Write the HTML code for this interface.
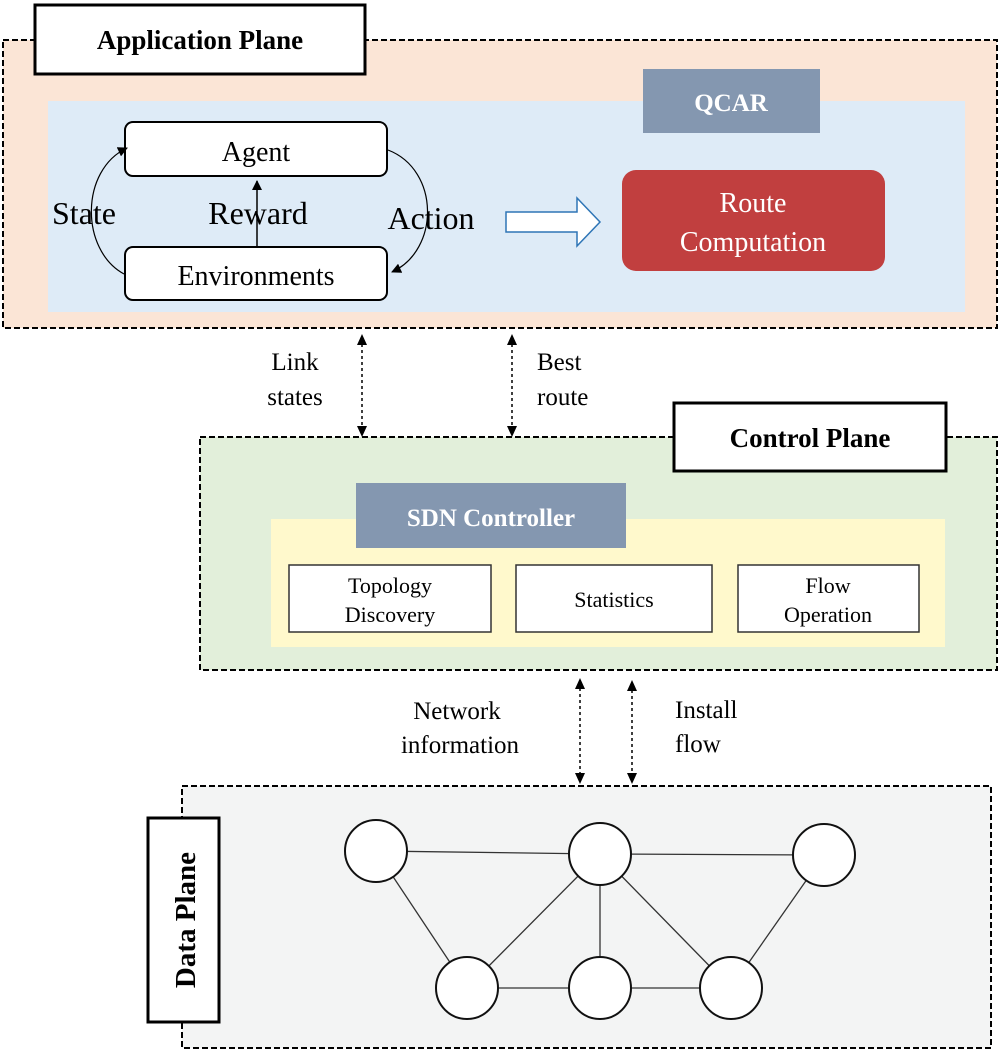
<!DOCTYPE html>
<html><head><meta charset="utf-8"><style>body{margin:0;background:#fff}svg{display:block}text{font-family:"Liberation Serif",serif}</style></head><body>
<svg width="1001" height="1054" viewBox="0 0 1001 1054" xmlns="http://www.w3.org/2000/svg">
<defs>
<marker id="ah" markerWidth="10" markerHeight="10" refX="9" refY="5" orient="auto" markerUnits="userSpaceOnUse"><path d="M0,0 L10,5 L0,10 z" fill="#000"/></marker>
</defs>
<rect x="3" y="40" width="994" height="288" fill="#fbe5d6" stroke="#000" stroke-width="2" stroke-dasharray="6,3"/>
<rect x="48" y="101" width="917" height="211" fill="#deebf7"/>
<rect x="35" y="5" width="330" height="69" fill="#fff" stroke="#000" stroke-width="3"/>
<text x="200" y="49" font-size="27" font-weight="bold" text-anchor="middle">Application Plane</text>
<rect x="643" y="69" width="177" height="64" fill="#8497b0"/>
<text x="731" y="111" font-size="25" font-weight="bold" fill="#fff" text-anchor="middle">QCAR</text>
<rect x="622" y="170" width="263" height="101" rx="14" fill="#c13f3f"/>
<text x="753" y="212" font-size="28" fill="#fff" text-anchor="middle">Route</text>
<text x="753" y="251" font-size="28" fill="#fff" text-anchor="middle">Computation</text>
<path d="M506,212 L577,212 L577,198 L600,222 L577,246 L577,232 L506,232 z" fill="#fff" stroke="#2e75b6" stroke-width="1.5"/>
<rect x="125" y="122" width="262" height="54" rx="8" fill="#fff" stroke="#000" stroke-width="2"/>
<text x="256" y="161" font-size="28" text-anchor="middle">Agent</text>
<rect x="125" y="247" width="262" height="53" rx="8" fill="#fff" stroke="#000" stroke-width="2"/>
<text x="256" y="285" font-size="28" text-anchor="middle">Environments</text>
<line x1="257" y1="247" x2="257" y2="181" stroke="#000" stroke-width="1.5" marker-end="url(#ah)"/>
<path d="M124,274 C80,250 80,170 127,148" fill="none" stroke="#000" stroke-width="1.2" marker-end="url(#ah)"/>
<path d="M388,150 C440,170 440,250 392,272" fill="none" stroke="#000" stroke-width="1.2" marker-end="url(#ah)"/>
<text x="84" y="224" font-size="32" text-anchor="middle">State</text>
<text x="258" y="224" font-size="32" text-anchor="middle">Reward</text>
<text x="431" y="229" font-size="32" text-anchor="middle">Action</text>
<line x1="362" y1="344" x2="362" y2="428" stroke="#000" stroke-width="1.5" stroke-dasharray="3,3"/>
<path d="M357,345 L362,334 L367,345z M357,426 L362,437 L367,426z" fill="#000"/>
<line x1="512" y1="344" x2="512" y2="428" stroke="#000" stroke-width="1.5" stroke-dasharray="3,3"/>
<path d="M507,345 L512,334 L517,345z M507,426 L512,437 L517,426z" fill="#000"/>
<text x="295" y="370" font-size="25" text-anchor="middle">Link</text>
<text x="295" y="405" font-size="25" text-anchor="middle">states</text>
<text x="537" y="370" font-size="25">Best</text>
<text x="537" y="405" font-size="25">route</text>
<rect x="200" y="437" width="797" height="233" fill="#e2efda" stroke="#000" stroke-width="2" stroke-dasharray="6,3"/>
<rect x="271" y="519" width="674" height="128" fill="#fff9cc"/>
<rect x="674" y="403" width="272" height="68" fill="#fff" stroke="#000" stroke-width="3"/>
<text x="810" y="447" font-size="27" font-weight="bold" text-anchor="middle">Control Plane</text>
<rect x="356" y="483" width="270" height="65" fill="#8497b0"/>
<text x="491" y="526" font-size="25" font-weight="bold" fill="#fff" text-anchor="middle">SDN Controller</text>
<rect x="289" y="565" width="202" height="67" fill="#fff" stroke="#333" stroke-width="1.5"/>
<text x="390" y="593" font-size="22" text-anchor="middle">Topology</text>
<text x="390" y="622" font-size="22" text-anchor="middle">Discovery</text>
<rect x="516" y="565" width="196" height="67" fill="#fff" stroke="#333" stroke-width="1.5"/>
<text x="614" y="607" font-size="22" text-anchor="middle">Statistics</text>
<rect x="738" y="565" width="181" height="67" fill="#fff" stroke="#333" stroke-width="1.5"/>
<text x="828" y="593" font-size="22" text-anchor="middle">Flow</text>
<text x="828" y="622" font-size="22" text-anchor="middle">Operation</text>
<line x1="580" y1="688" x2="580" y2="775" stroke="#000" stroke-width="1.5" stroke-dasharray="3,3"/>
<path d="M575,689 L580,678 L585,689z M575,773 L580,784 L585,773z" fill="#000"/>
<line x1="632" y1="690" x2="632" y2="775" stroke="#000" stroke-width="1.5" stroke-dasharray="3,3"/>
<path d="M627,691 L632,680 L637,691z M627,773 L632,784 L637,773z" fill="#000"/>
<text x="457" y="719" font-size="25" text-anchor="middle">Network</text>
<text x="460" y="753" font-size="25" text-anchor="middle">information</text>
<text x="675" y="718" font-size="25">Install</text>
<text x="675" y="752" font-size="25">flow</text>
<rect x="182" y="786" width="809" height="262" fill="#f3f4f4" stroke="#000" stroke-width="2" stroke-dasharray="6,3"/>
<rect x="148" y="818" width="71" height="204" fill="#fff" stroke="#000" stroke-width="3"/>
<text transform="translate(195,920) rotate(-90)" font-size="29" font-weight="bold" text-anchor="middle">Data Plane</text>
<g stroke="#333" stroke-width="1.3">
<line x1="376" y1="851" x2="600" y2="854"/>
<line x1="600" y1="854" x2="824" y2="855"/>
<line x1="600" y1="854" x2="467" y2="988"/>
<line x1="600" y1="854" x2="600" y2="988"/>
<line x1="600" y1="854" x2="731" y2="988"/>
<line x1="824" y1="855" x2="731" y2="988"/>
<line x1="376" y1="851" x2="467" y2="988"/>
<line x1="467" y1="988" x2="600" y2="988"/>
<line x1="600" y1="988" x2="731" y2="988"/>
</g>
<g fill="#fff" stroke="#111" stroke-width="2">
<circle cx="376" cy="851" r="31"/>
<circle cx="600" cy="854" r="31"/>
<circle cx="824" cy="855" r="31"/>
<circle cx="467" cy="988" r="31"/>
<circle cx="600" cy="988" r="31"/>
<circle cx="731" cy="988" r="31"/>
</g>
</svg>
</body></html>
